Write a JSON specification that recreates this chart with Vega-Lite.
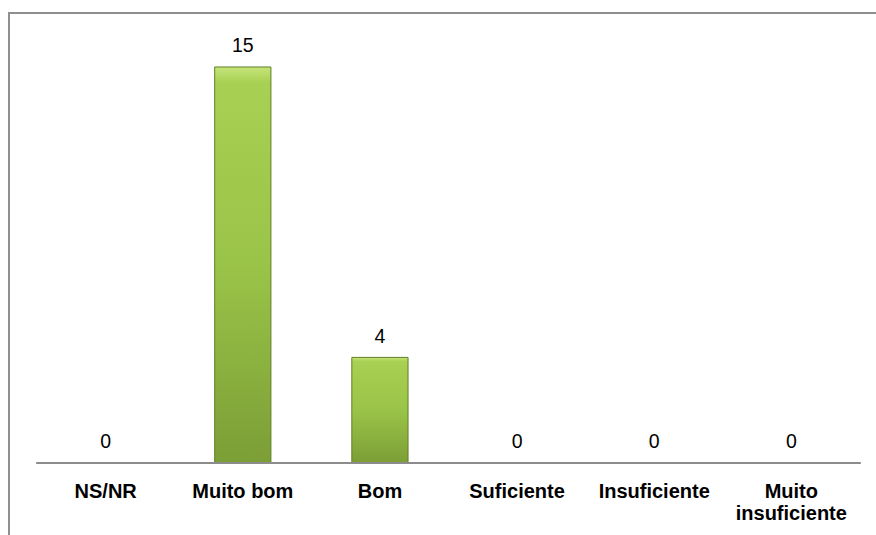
{
  "$schema": "https://vega.github.io/schema/vega-lite/v6.json",
  "autosize": "none",
  "padding": {"left": 9, "top": 13, "right": -12, "bottom": -12},
  "width": 879,
  "height": 534,
  "background": "white",
  "config": {
    "view": {"stroke": "#8f8f8f", "strokeWidth": 2},
    "font": "Liberation Sans"
  },
  "data": {
    "values": [
      {"categoria": "NS/NR", "valor": 0},
      {"categoria": "Muito bom", "valor": 15},
      {"categoria": "Bom", "valor": 4},
      {"categoria": "Suficiente", "valor": 0},
      {"categoria": "Insuficiente", "valor": 0},
      {"categoria": "Muito insuficiente", "valor": 0}
    ]
  },
  "encoding": {
    "x": {
      "field": "categoria",
      "type": "nominal",
      "sort": null,
      "scale": {"paddingInner": 0.59, "paddingOuter": 0.5, "align": 0.5},
      "axis": {
        "orient": "bottom",
        "offset": -84,
        "domain": false,
        "ticks": false,
        "grid": false,
        "title": null,
        "labelAngle": 0,
        "labelPadding": 34,
        "labelBaseline": "alphabetic",
        "labelFont": "Liberation Sans",
        "labelFontWeight": "bold",
        "labelFontSize": 20,
        "labelColor": "#000000",
        "labelLineHeight": 22,
        "labelLimit": 300,
        "labelOverlap": false,
        "labelExpr": "datum.value == 'Muito insuficiente' ? ['Muito', 'insuficiente'] : datum.label"
      }
    },
    "y": {
      "field": "valor",
      "type": "quantitative",
      "scale": {"domain": [-3.182, 17.045], "nice": false, "zero": false},
      "axis": null
    }
  },
  "layer": [
    {
      "mark": {
        "type": "bar",
        "stroke": "#5f7f22",
        "strokeWidth": 1,
        "color": {
          "gradient": "linear",
          "x1": 0, "y1": 0, "x2": 0, "y2": 1,
          "stops": [
            {"offset": 0, "color": "#c6e47c"},
            {"offset": 0.04, "color": "#a8d052"},
            {"offset": 0.5, "color": "#9ac448"},
            {"offset": 1, "color": "#7c9e36"}
          ]
        }
      }
    },
    {
      "mark": {"type": "tick", "orient": "horizontal", "size": 139, "thickness": 2, "color": "#8c8c8c", "opacity": 1},
      "encoding": {"y": {"datum": 0, "type": "quantitative"}}
    },
    {
      "mark": {"type": "text", "baseline": "alphabetic", "dy": -14.5, "fontSize": 19.5, "font": "Liberation Sans", "color": "#000000"},
      "encoding": {"text": {"field": "valor", "type": "quantitative"}}
    }
  ]
}
